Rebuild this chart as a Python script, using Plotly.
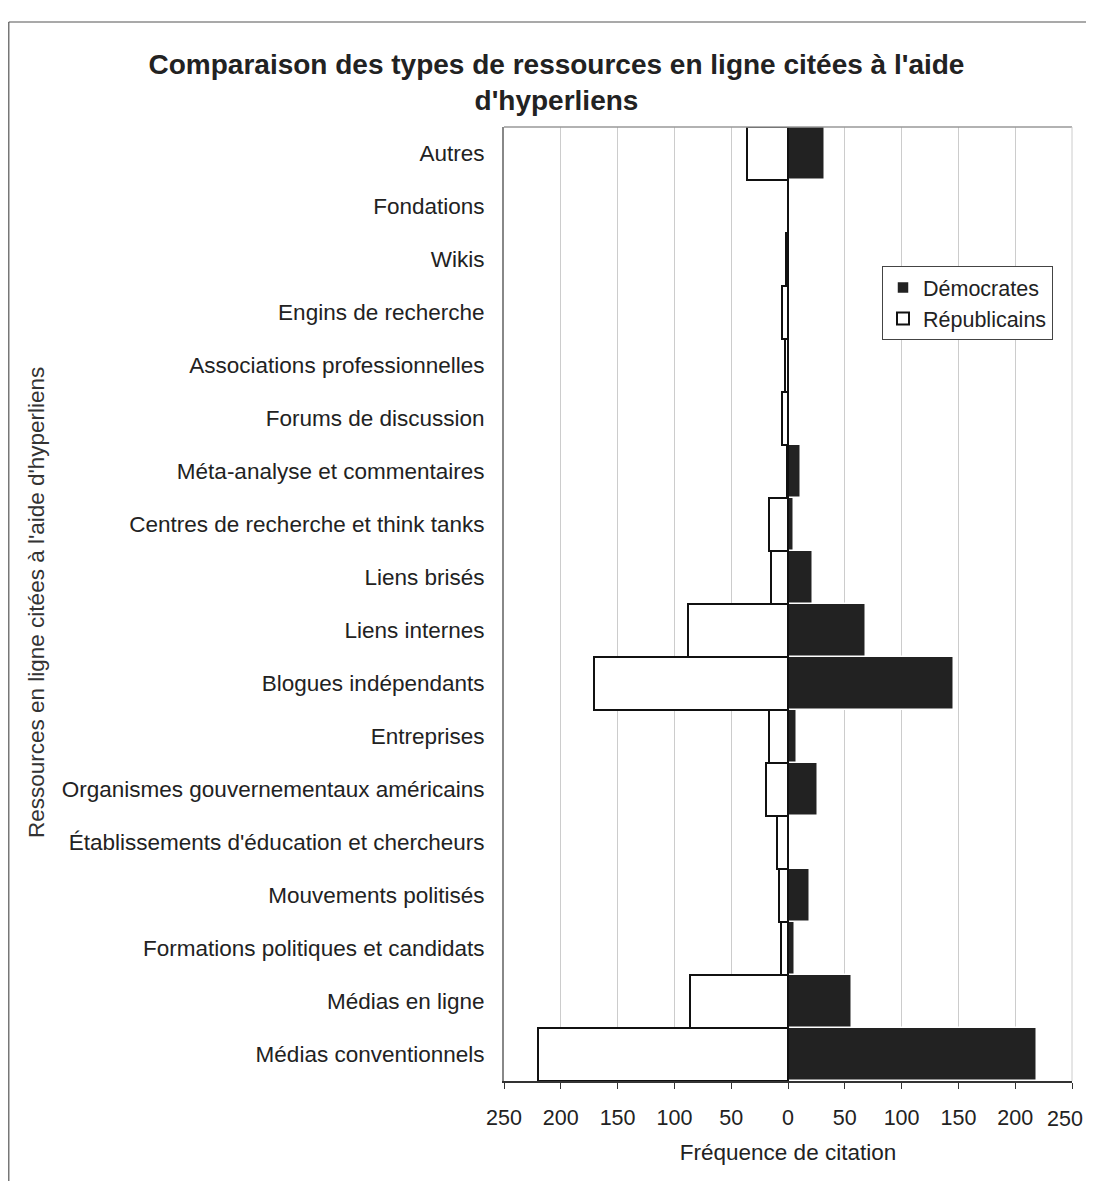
import plotly.graph_objects as go

# Categories from bottom to top
categories = [
    "Médias conventionnels",
    "Médias en ligne",
    "Formations politiques et candidats",
    "Mouvements politisés",
    "Établissements d'éducation et chercheurs",
    "Organismes gouvernementaux américains",
    "Entreprises",
    "Blogues indépendants",
    "Liens internes",
    "Liens brisés",
    "Centres de recherche et think tanks",
    "Méta-analyse et commentaires",
    "Forums de discussion",
    "Associations professionnelles",
    "Engins de recherche",
    "Wikis",
    "Fondations",
    "Autres",
]
democrates = [219, 56, 6, 19, 0, 26, 8, 146, 69, 22, 5, 11, 1, 1, 2, 0, 0, 33]
republicains = [220, 86, 6, 8, 10, 19, 17, 171, 88, 15, 17, 1, 5, 3, 5, 2, 0, 36]
tick_values = [-250, -200, -150, -100, -50, 0, 50, 100, 150, 200, 250]
tick_labels = ["250", "200", "150", "100", "50", "0", "50", "100", "150", "200", "250"]

FONT = "Liberation Sans, Arial, sans-serif"
OFF = 8  # browser body margin
W, H = 1078, 1173
L, T = 504 - OFF, 127 - OFF
R = W - (1072 - OFF)
B = H - (1081 - OFF)
pw, ph = W - L - R, H - T - B

def px_x(p):  # page x -> paper
    return (p - OFF - L) / pw

def px_y(p):  # page y -> paper
    return (H - B - (p - OFF)) / ph

fig = go.Figure()
fig.add_trace(go.Bar(
    y=categories, x=democrates, orientation="h", name="Démocrates",
    marker=dict(color="#222222", line=dict(color="white", width=1.5)),
))
fig.add_trace(go.Bar(
    y=categories, x=[-v for v in republicains], orientation="h", name="Républicains",
    marker=dict(color="white", line=dict(color="#111111", width=2)),
))

fig.update_layout(
    width=W, height=H,
    margin=dict(l=L, r=R, t=T, b=B),
    paper_bgcolor="white", plot_bgcolor="white",
    barmode="overlay", bargap=0,
    font=dict(family=FONT, size=22, color="#222222"),
    title=dict(
        text="<b>Comparaison des types de ressources en ligne citées à l'aide<br>d'hyperliens</b>",
        x=(556.5 - OFF) / W, xanchor="center", y=1 - 66 / H, yanchor="top",
        font=dict(family=FONT, size=28, color="#222222"),
    ),
    legend=dict(
        x=px_x(882), y=px_y(266), xanchor="left", yanchor="top",
        bgcolor="white", bordercolor="#444444", borderwidth=1,
        font=dict(family=FONT, size=21.5, color="#222222"),
        traceorder="normal", itemwidth=30, tracegroupgap=0,
    ),
    showlegend=True,
)
fig.update_xaxes(
    range=[-250, 250], tickvals=tick_values, ticktext=tick_labels,
    showgrid=True, gridcolor="#cccccc", gridwidth=1, zeroline=False,
    showline=True, linecolor="#333333", linewidth=1.5, mirror=False,
    ticks="outside", ticklen=6, tickcolor="#333333", ticklabelstandoff=10,
    tickfont=dict(family=FONT, size=21.5, color="#222222"),
    title=dict(text="Fréquence de citation", font=dict(family=FONT, size=22.5, color="#222222"), standoff=16),
)
fig.update_yaxes(
    categoryorder="array", categoryarray=categories,
    showgrid=False, zeroline=False,
    showline=True, linecolor="#888888", linewidth=2, mirror=False,
    ticks="", ticklabelstandoff=13,
    tickfont=dict(family=FONT, size=22.5, color="#222222"),
)

# the last tick label would overflow the page: draw it right-aligned at the edge
fig.add_annotation(
    text=tick_labels[-1], xref="paper", yref="paper",
    x=(W - 1 - L) / pw, y=px_y(1119), xanchor="right", yanchor="middle",
    showarrow=False, font=dict(family=FONT, size=21.5, color="#222222"),
)

# plot-area frame (top and right)
fig.add_shape(type="line", xref="paper", yref="paper", x0=0, x1=1, y0=1, y1=1,
              line=dict(color="#999999", width=1.5))
fig.add_shape(type="line", xref="paper", yref="paper", x0=1, x1=1, y0=0, y1=1,
              line=dict(color="#cccccc", width=1))
# outer chart frame
fig.add_shape(type="line", xref="paper", yref="paper",
              x0=px_x(8.8), x1=px_x(8.8), y0=px_y(22), y1=px_y(1181),
              line=dict(color="#555555", width=1.2), layer="below")
fig.add_shape(type="line", xref="paper", yref="paper",
              x0=px_x(8.8), x1=(W - L) / pw, y0=px_y(22), y1=px_y(22),
              line=dict(color="#555555", width=1.2), layer="below")

fig.add_annotation(
    text="Ressources en ligne citées à l'aide d'hyperliens",
    xref="paper", yref="paper", x=px_x(36), y=px_y(603),
    xanchor="center", yanchor="middle", textangle=-90, showarrow=False,
    font=dict(family=FONT, size=22.5, color="#333333"),
)

fig.write_html("out.html")
